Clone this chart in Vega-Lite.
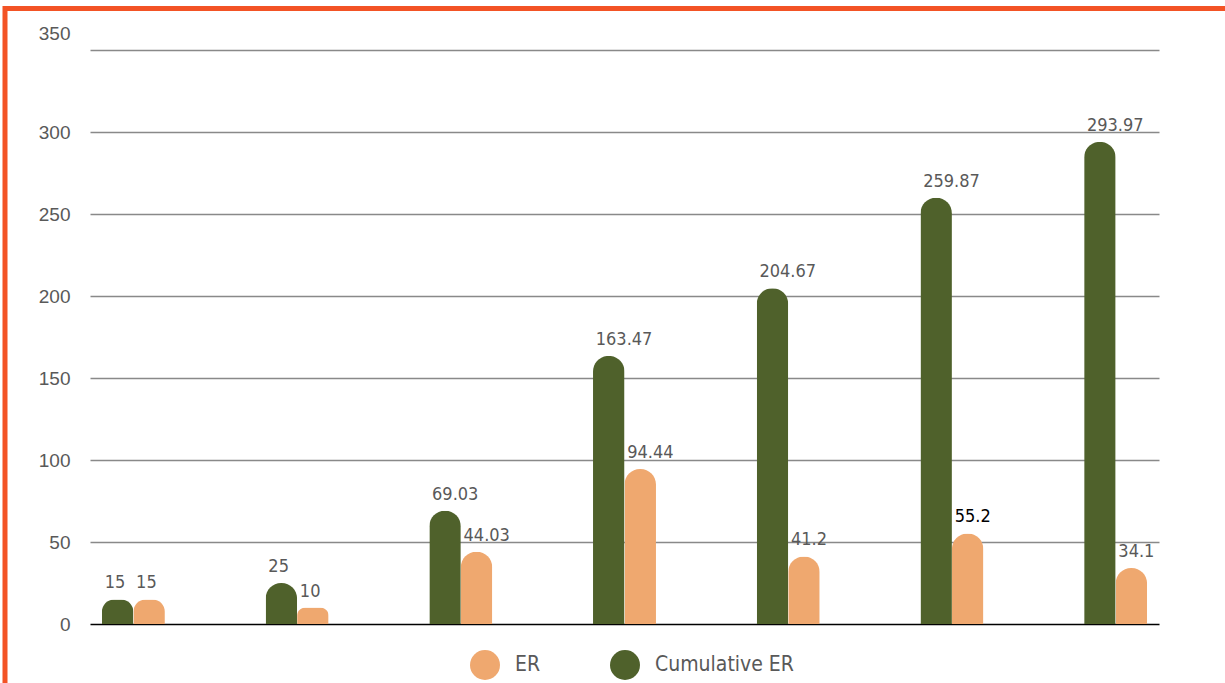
{
  "$schema": "https://vega.github.io/schema/vega-lite/v6.json",
  "width": 1069,
  "height": 574,
  "autosize": {"type": "none"},
  "padding": {"left": 90, "top": 50, "right": 66, "bottom": 59},
  "background": "white",
  "config": {"view": {"stroke": null}},
  "datasets": {
    "bars": [
      {"period": "P1", "series": "Cumulative ER", "value": 15},
      {"period": "P1", "series": "ER", "value": 15},
      {"period": "P2", "series": "Cumulative ER", "value": 25},
      {"period": "P2", "series": "ER", "value": 10},
      {"period": "P3", "series": "Cumulative ER", "value": 69.03},
      {"period": "P3", "series": "ER", "value": 44.03},
      {"period": "P4", "series": "Cumulative ER", "value": 163.47},
      {"period": "P4", "series": "ER", "value": 94.44},
      {"period": "P5", "series": "Cumulative ER", "value": 204.67},
      {"period": "P5", "series": "ER", "value": 41.2},
      {"period": "P6", "series": "Cumulative ER", "value": 259.87},
      {"period": "P6", "series": "ER", "value": 55.2},
      {"period": "P7", "series": "Cumulative ER", "value": 293.97},
      {"period": "P7", "series": "ER", "value": 34.1}
    ],
    "frame": [{"name": "frame"}]
  },
  "layer": [
    {
      "data": {"name": "bars"},
      "mark": {"type": "bar", "cornerRadiusTopLeft": 15.5, "cornerRadiusTopRight": 15.5},
      "encoding": {
        "x": {"field": "period", "type": "nominal", "sort": null,
          "scale": {"paddingInner": 0.47, "paddingOuter": -0.02},
          "axis": {"labels": false, "ticks": false, "title": null, "domain": false, "grid": false}},
        "xOffset": {"field": "series", "type": "nominal",
          "scale": {"domain": ["Cumulative ER", "ER"], "paddingInner": 0, "paddingOuter": 0.378}},
        "y": {"field": "value", "type": "quantitative",
          "scale": {"domain": [0, 350]},
          "axis": {
            "title": null,
            "values": [0, 50, 100, 150, 200, 250, 300, 350],
            "ticks": false, "domain": false,
            "labelFont": "Liberation Sans", "labelFontSize": 19, "labelColor": "#595959",
            "labelPadding": 20,
            "labelOffset": {"condition": {"test": "datum.value === 350", "value": -17}, "value": 0},
            "gridColor": {"condition": {"test": "datum.value === 0", "value": "#000000"}, "value": "#898989"},
            "gridWidth": 1.5
          }},
        "color": {"field": "series", "type": "nominal",
          "scale": {"domain": ["ER", "Cumulative ER"], "range": ["#EFA86F", "#4F612B"]},
          "legend": {
            "title": null, "orient": "none", "legendX": 380, "legendY": 600,
            "direction": "horizontal", "symbolType": "circle", "symbolSize": 900,
            "symbolStrokeWidth": 0, "symbolOpacity": 1,
            "labelFont": "DejaVu Sans Condensed, Roboto", "labelFontSize": 21, "labelColor": "#595959",
            "labelOffset": 15, "columnPadding": 69, "padding": 0
          }}
      }
    },
    {
      "data": {"name": "bars"},
      "mark": {"type": "text", "align": "left", "baseline": "alphabetic", "dx": -13, "dy": -11,
        "font": "DejaVu Sans Condensed, Roboto", "fontSize": 18},
      "encoding": {
        "x": {"field": "period", "type": "nominal", "sort": null},
        "xOffset": {"field": "series", "type": "nominal"},
        "y": {"field": "value", "type": "quantitative"},
        "text": {"field": "value", "type": "quantitative"},
        "color": {"condition": {"test": "datum.value === 55.2", "value": "#000000"}, "value": "#595959"}
      }
    },
    {
      "data": {"name": "frame"},
      "mark": {"type": "rect", "fill": null, "stroke": "#F35325", "strokeWidth": 5},
      "encoding": {
        "x": {"value": -85},
        "x2": {"value": 1200},
        "y": {"value": -41.5},
        "y2": {"value": 700}
      }
    }
  ]
}
